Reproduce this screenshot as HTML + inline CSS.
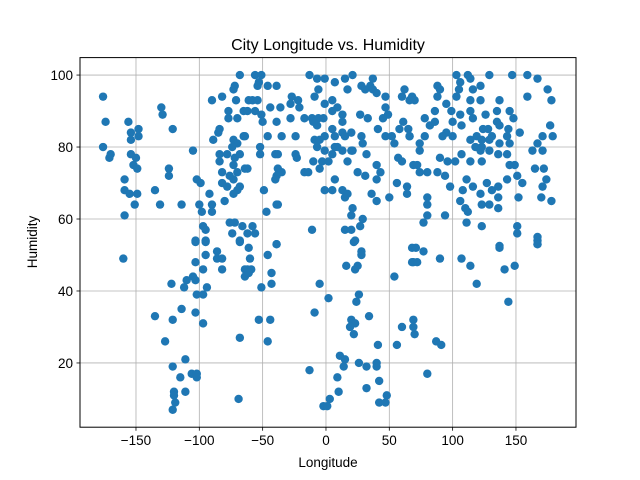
<!DOCTYPE html>
<html><head><meta charset="utf-8"><style>
html,body{margin:0;padding:0;background:#fff;}
svg{display:block;font-family:"Liberation Sans","DejaVu Sans",sans-serif;}
</style></head><body>
<svg id="chart" width="640" height="480" viewBox="0 0 640 480">
<rect x="0" y="0" width="640" height="480" fill="#fff"/>
<text x="328" y="50" font-size="16" text-anchor="middle" fill="#000">City Longitude vs. Humidity</text>
<g id="grid"></g>
<g id="points"></g>
<rect x="80" y="57.6" width="496" height="369.6" fill="none" stroke="#000" stroke-width="1"/>
<g id="ticks"></g>
<text x="328" y="467" font-size="13.5" text-anchor="middle">Longitude</text>
<text x="37" y="242" font-size="13.5" text-anchor="middle" transform="rotate(-90 37 242)">Humidity</text>
</svg>
<script>
const xTicks = [-150, -100, -50, 0, 50, 100, 150];
const yTicks = [20, 40, 60, 80, 100];
const lon = [];
const hum = [];
const points = [
[-160,49],[-103,53.6],[-95,53.6],[-95,50],[-86,51],[-86,49],[-82,49],[-103,48],[-97,46],[-82,46],[-68,53.6],[-64,46],[-64,44],
[-122,42],[-110,43],[-103,43],[-105,44],[-112,41],[-102,39],[-97,39],[-94,41],[-114,35],[-135,33],[-121,32],[-103,34],[-97,31],
[-68,27],[-127,26],[-111,21],[-121,19],[-115,16],[-106,17],[-102,17],[-102,16],[-120,12],[-120,11],[-111,12],[-119,9],[-121,7],[-69,10],
[-61,52],[-60,49],[-62,46],[-59,46],[-61,45],[-39,53],[-46,50],[-43,45],[-43,42],[-51,41],[-53,32],[-44,32],[-46,26],
[22,53.6],[28,51],[28,50],[16,47],[23,46],[25,47],[54,44],[68,52],[68,48],[-5,42],[2,38],[26,39],[24,37],[-9,34],
[20,32],[23,31],[19,30],[22,28],[34,33],[60,30],[56,25],[41,25],[11,22],[15,21],[14,19],[-13,18],[26,20],[32,19],[40,19],[40,20],
[42,15],[9,16],[10,12],[32,13],[3,10],[-2,8],[1,8],[48,11],[42,9],[47,9],
[71,52],[77,51],[69,48],[72,48],[90,49],[107,49],[114,47],[119,42],[137,52],[141,46],[149,47],[167,54],[167,53],[144,37],
[69,32],[69,30],[70,28],[87,26],[91,25],[80,17],
[-68,100],[-72,97],[-73,96],[-71,93],[-82,94],[-90,93],[-61,93],[-176,94],[-130,91],[-129,89],[-77,90],[-77,88],[-70,88],[-65,90],
[-174,87],[-156,87],[-154,84],[-154,82],[-148,85],[-148,83],[-121,85],[-84,85],[-85,84],[-89,82],[-73,82],[-65,83],[-70,81],[-74,80],
[-176,80],[-171,77],[-170,78],[-105,79],[-154,78],[-150,77],[-152,75],[-149,74],[-84,78],[-78,78],[-84,76],[-72,77],[-68,78],[-64,74],[-73,75],
[-124,74],[-124,72],[-159,71],[-82,73],[-76,72],[-70,73],[-82,70],[-73,71],[-68,69],[-70,68],[-78,69],[-102,71],[-99,70],
[-159,68],[-155,67],[-149,67],[-151,64],[-135,68],[-92,67],[-80,65],[-73,67],[-131,64],[-114,64],[-100,64],[-98,62],[-90,64],[-90,62],
[-159,61],[-76,59],[-72,59],[-74,56],[-66,58],[-62,56],[-97,58],[-95,57],[-95,54],[-103,54],[-68,54],
[-56,100],[-51,100],[-53,98],[-54,97],[-46,97],[-39,97],[-13,100],[-7,99],[-1,99],[7,98],[15,99],[21,100],[17,96],[-6,96],[-9,94],
[28,97],[37,99],[35,97],[31,96],[37,96],[40,95],[47,94],[62,96],[66,93],[60,94],[-58,93],[-54,93],[-62,90],[-56,90],[-51,89],[-50,87],
[-44,91],[-36,91],[-27,94],[-22,93],[-28,92],[-21,91],[-39,87],[-28,88],[-17,88],[-11,88],[-6,88],[-7,86],[-2,88],[-10,87],
[-1,92],[5,93],[9,91],[13,89],[5,90],[13,87],[-1,83],[5,85],[7,83],[13,84],[15,83],[20,84],[9,80],[-9,82],[-5,82],[-7,80],[-1,79],[5,78],
[7,80],[13,79],[21,79],[27,89],[33,88],[28,83],[29,81],[47,91],[49,89],[45,88],[41,85],[47,83],[52,83],[61,87],[65,85],[66,83],[58,85],[54,81],
[-64,83],[-46,83],[-35,83],[-24,83],[-52,80],[-52,78],[-40,78],[-38,78],[-24,78],[-23,77],[-62,74],[-38,74],[-35,73],[-39,72],[-40,71],
[-17,73],[-14,73],[-10,76],[-3,76],[-5,74],[2,76],[17,76],[20,79],[32,78],[25,73],[31,72],[40,75],[43,73],[40,71],[57,77],[60,76],[69,75],
[7,71],[-1,68],[5,68],[13,68],[17,67],[15,66],[36,67],[40,65],[50,66],[56,70],[64,69],[64,67],[-49,68],[-38,64],[-39,64],[-47,62],
[21,63],[20,61],[27,58],[29,60],[-11,57],[15,57],[20,57],[23,54],[-58,58],[-56,56],[-39,53],
[103,100],[112,100],[129,100],[147,100],[159,100],[167,99],[175,96],[178,93],[159,94],[88,97],[90,96],[88,94],[106,98],[105,96],[114,99],[122,97],[116,96],
[68,94],[70,93],[103,94],[114,93],[122,93],[137,93],[95,92],[99,90],[86,90],[78,88],[82,86],[86,87],[106,89],[107,86],[100,87],[114,90],[116,88],
[126,89],[135,90],[135,87],[145,90],[148,88],[124,85],[128,85],[131,83],[119,83],[123,82],[129,82],[118,80],[123,80],[114,82],
[137,86],[144,85],[153,84],[143,83],[137,81],[145,81],[95,84],[100,83],[92,83],[78,83],[74,81],[66,83],
[177,86],[179,83],[171,83],[167,81],[163,79],[171,79],[74,79],[107,78],[114,76],[122,79],[123,76],[129,79],[136,78],[143,78],[145,75],[149,75],
[90,77],[96,76],[102,76],[72,75],[74,73],[80,73],[88,73],[94,72],[98,69],[111,71],[116,69],[127,70],[131,68],[136,69],[143,71],[151,72],[155,70],
[165,74],[172,74],[174,71],[171,69],[170,66],[178,65],[152,66],[122,67],[136,66],[108,68],[106,65],[110,63],[112,62],[123,64],[129,64],[136,63],
[80,66],[80,64],[77,59],[80,61],[94,61],[111,59],[123,58],[151,58],[151,56],[167,55],[167,53],[137,52.5]
];
for (const p of points) { lon.push(p[0]); hum.push(p[1]); }

const X0 = 80, X1 = 576, Y0 = 57.6, Y1 = 427.2;
const xMin = -194.2, xMax = 197.4, yMin = 2.15, yMax = 104.85;
function sx(v){ return X0 + (v - xMin) / (xMax - xMin) * (X1 - X0); }
function sy(v){ return Y1 - (v - yMin) / (yMax - yMin) * (Y1 - Y0); }
const NS = 'http://www.w3.org/2000/svg';
const grid = document.getElementById('grid');
const ticks = document.getElementById('ticks');
const pts = document.getElementById('points');

for (const t of xTicks) {
  const x = sx(t);
  const g = document.createElementNS(NS, 'line');
  g.setAttribute('x1', x); g.setAttribute('x2', x); g.setAttribute('y1', Y0); g.setAttribute('y2', Y1);
  g.setAttribute('stroke', '#b0b0b0'); g.setAttribute('stroke-width', '0.8');
  
  
  grid.appendChild(g);
  const tk = document.createElementNS(NS, 'line');
  tk.setAttribute('x1', x); tk.setAttribute('x2', x); tk.setAttribute('y1', Y1); tk.setAttribute('y2', Y1 + 3.5);
  tk.setAttribute('stroke', '#000'); tk.setAttribute('stroke-width', '0.8');
  
  
  ticks.appendChild(tk);
  const lb = document.createElementNS(NS, 'text');
  lb.setAttribute('x', x); lb.setAttribute('y', Y1 + 18); lb.setAttribute('font-size', '13.5');
  lb.setAttribute('text-anchor', 'middle');
  lb.textContent = t < 0 ? '\u2212' + Math.abs(t) : String(t);
  
  
  ticks.appendChild(lb);
}
for (const t of yTicks) {
  const y = sy(t);
  const g = document.createElementNS(NS, 'line');
  g.setAttribute('x1', X0); g.setAttribute('x2', X1); g.setAttribute('y1', y); g.setAttribute('y2', y);
  g.setAttribute('stroke', '#b0b0b0'); g.setAttribute('stroke-width', '0.8');
  
  
  grid.appendChild(g);
  const tk = document.createElementNS(NS, 'line');
  tk.setAttribute('x1', X0 - 3.5); tk.setAttribute('x2', X0); tk.setAttribute('y1', y); tk.setAttribute('y2', y);
  tk.setAttribute('stroke', '#000'); tk.setAttribute('stroke-width', '0.8');
  
  
  ticks.appendChild(tk);
  const lb = document.createElementNS(NS, 'text');
  lb.setAttribute('x', X0 - 7); lb.setAttribute('y', y + 5); lb.setAttribute('font-size', '13.5');
  lb.setAttribute('text-anchor', 'end');
  lb.textContent = String(t);
  
  
  ticks.appendChild(lb);
}
for (let i = 0; i < lon.length; i++) {
  const c = document.createElementNS(NS, 'circle');
  c.setAttribute('cx', sx(lon[i])); c.setAttribute('cy', sy(hum[i])); c.setAttribute('r', '4.2');
  c.setAttribute('fill', '#1f77b4');
  
  
  pts.appendChild(c);
}
</script>
</body></html>
